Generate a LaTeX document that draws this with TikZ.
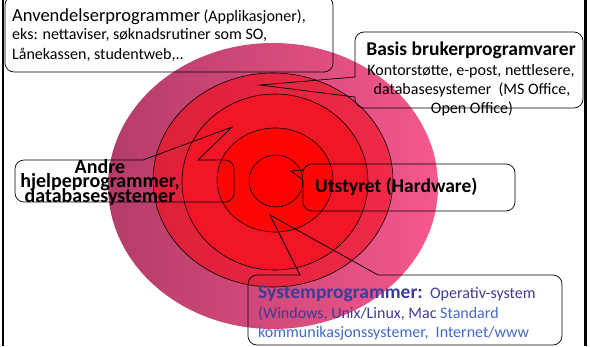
\documentclass[tikz,border=0pt]{standalone}
\usepackage{fontspec}
\setmainfont{Carlito}
\definecolor{outerL}{HTML}{B43C68}
\definecolor{outerR}{HTML}{F4588E}
\definecolor{ringA}{HTML}{DE2038}
\definecolor{ringAR}{HTML}{EE2A48}
\definecolor{ringB}{HTML}{F01626}
\definecolor{ringC}{HTML}{FF0606}
\definecolor{ringD}{HTML}{FF0000}
\definecolor{sysdark}{HTML}{3C3C9A}
\definecolor{syslight}{HTML}{4169C8}
\tikzset{
  callout/.style={draw=black, line width=0.7pt},
  ringline/.style={draw=black, line width=0.6pt},
  body/.style={font=\fontsize{16}{19}\selectfont, inner sep=0pt},
  head/.style={font=\fontsize{19.5}{22}\selectfont\bfseries, inner sep=0pt},
}
\begin{document}
\begin{tikzpicture}[x=1pt,y=-1pt]
\useasboundingbox (0,0) rectangle (590,346);
% frame lines
\draw[line width=2pt] (3,0) -- (3,346);
\draw[line width=3pt] (585,0) -- (585,346);
% concentric shapes
\shade[left color=outerL, right color=outerR] (273,186) ellipse [x radius=165, y radius=143];
\shade[left color=ringA, right color=ringAR, ringline] (273,180) ellipse [x radius=120, y radius=107];
\filldraw[fill=ringB, ringline] (275,182) ellipse [x radius=93, y radius=88];
\filldraw[fill=ringC, ringline] (275,180) ellipse [x radius=58, y radius=52];
\filldraw[fill=ringD, ringline] (276,181) ellipse [x radius=27, y radius=26];
% callout 1: Anvendelserprogrammer
\draw[callout, rounded corners=9pt] (5,-4) rectangle (333,72);
% callout 2: Basis
\draw[callout] (355,77) [rounded corners=9pt] -- (355,32) -- (583,32) -- (583,108) -- (355,108) [sharp corners] -- (355,97) -- (260,85) -- cycle;
% callout 3: Andre
\draw[callout] (198,160) [rounded corners=9pt] -- (234,160) -- (234,202) -- (15,202) -- (15,160) [sharp corners] -- (143,160) -- (232,127) -- cycle;
% callout 4: Utstyret
\draw[callout] (303,180) [rounded corners=9pt] -- (303,211) -- (515,211) -- (515,164) -- (303,164) [sharp corners] -- (303,170) -- (291,171) -- cycle;
% callout 5: Systemprogrammer
\draw[callout] (378,275) [rounded corners=9pt] -- (562,275) -- (562,345) -- (248,345) -- (248,275) [sharp corners] -- (300,275) -- (270,215) -- cycle;
% texts callout 1
\node[body, anchor=base west] (t1a) at (12,21) {\fontsize{18.5}{22}\selectfont Anvendelserprogrammer\fontsize{16}{19}\selectfont{} (Applikasjoner),};
\node[body, anchor=base west] (t1b) at (12,39.5) {eks: nettaviser, søknadsrutiner som SO,};
\node[body, anchor=base west] (t1c) at (12,59) {Lånekassen, studentweb,..};
% texts callout 2
\node[head, anchor=base] (t2a) at (471,55) {Basis brukerprogramvarer};
\node[body, anchor=base] (t2b) at (471,75) {Kontorstøtte, e-post, nettlesere,};
\node[body, anchor=base] (t2c) at (472,94) {databasesystemer~~(MS Office,};
\node[body, anchor=base] (t2d) at (472,113) {Open Office)};
% texts callout 3
\node[head, font=\fontsize{20}{22}\selectfont\bfseries, anchor=base] (t3a) at (100,173) {Andre};
\node[head, font=\fontsize{20}{22}\selectfont\bfseries, anchor=base] (t3b) at (100,187.5) {hjelpeprogrammer,};
\node[head, font=\fontsize{20}{22}\selectfont\bfseries, anchor=base] (t3c) at (100,202) {databasesystemer};
% text callout 4
\node[head, anchor=base west] (t4) at (315,192) {Utstyret (Hardware)};
% texts callout 5
\node[body, anchor=base west] (t5a) at (258,298) {\textcolor{sysdark}{\fontsize{19.5}{22}\selectfont\bfseries Systemprogrammer:}\textcolor{sysdark}{~~Operativ-system}};
\node[body, anchor=base west] (t5b) at (258,318) {\textcolor{sysdark}{(Windows, Unix/Linux, Mac} \textcolor{syslight}{Standard}};
\node[body, anchor=base west] (t5c) at (258,337) {\textcolor{syslight}{kommunikasjonssystemer,~~Internet/www}};
\end{tikzpicture}
\end{document}
